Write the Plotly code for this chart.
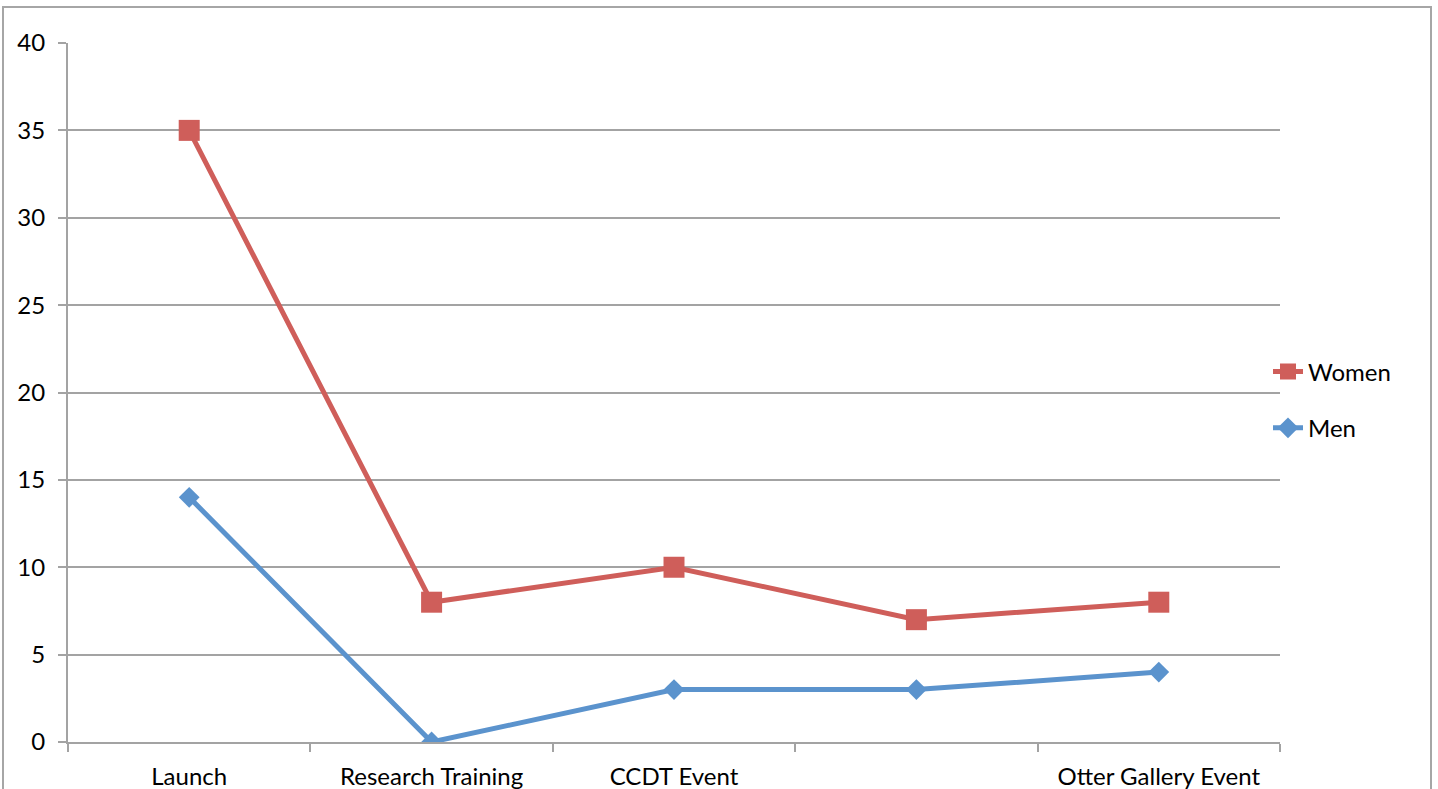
import plotly.graph_objects as go

# Attendance by event
events = ["Launch", "Research Training", "CCDT Event", " ", "Otter Gallery Event"]
women = [35, 8, 10, 7, 8]
men = [14, 0, 3, 3, 4]

RED = "#CF5E5A"
BLUE = "#5B93CD"
GRID = "#A3A3A3"
FONT = "Lato, 'Open Sans', 'Liberation Sans', sans-serif"

fig = go.Figure()
fig.add_trace(go.Scatter(
    x=events, y=women, name="Women", mode="lines+markers",
    line=dict(color=RED, width=5),
    marker=dict(symbol="square", size=21, color=RED),
    legendgroup="w",
))
fig.add_trace(go.Scatter(
    x=events, y=men, name="Men", mode="lines+markers",
    line=dict(color=BLUE, width=5),
    marker=dict(symbol="diamond", size=16, color=BLUE),
    legendgroup="m",
))

W, H = 1438, 789
L, R, T, B = 68, 1280, 43, 742
fig.update_layout(
    width=W, height=H,
    margin=dict(l=L, r=W - R, t=T, b=H - B, pad=0, autoexpand=False),
    paper_bgcolor="white", plot_bgcolor="white",
    font=dict(family=FONT, size=24, color="#000000"),
    showlegend=True,
    legend=dict(
        x=(1268 - L) / (R - L), xanchor="left",
        y=(B - 400) / (B - T), yanchor="middle",
        font=dict(size=24), tracegroupgap=22,
        bgcolor="rgba(0,0,0,0)",
    ),
    xaxis=dict(
        type="category", range=[-0.5, 4.5], automargin=False,
        showgrid=False, showline=True, linecolor=GRID, linewidth=2,
        ticks="outside", tickson="boundaries", ticklen=8,
        tickcolor=GRID, tickwidth=2,
        ticklabelstandoff=12,
        fixedrange=True,
    ),
    yaxis=dict(
        range=[0, 40], dtick=5, tick0=0, automargin=False,
        showgrid=True, gridcolor=GRID, gridwidth=2,
        showline=True, linecolor=GRID, linewidth=2,
        ticks="outside", ticklen=8, tickcolor=GRID, tickwidth=2,
        zeroline=False, ticklabelstandoff=8,
        fixedrange=True,
    ),
)

# Chart-area frame
px = lambda v: (v - L) / (R - L)
py = lambda v: (B - v) / (B - T)
fig.add_shape(
    type="rect", xref="paper", yref="paper",
    x0=px(3), x1=px(1431), y0=py(810), y1=py(7),
    line=dict(color="#A6A6A6", width=2), layer="below",
)

fig.write_html("out.html")
